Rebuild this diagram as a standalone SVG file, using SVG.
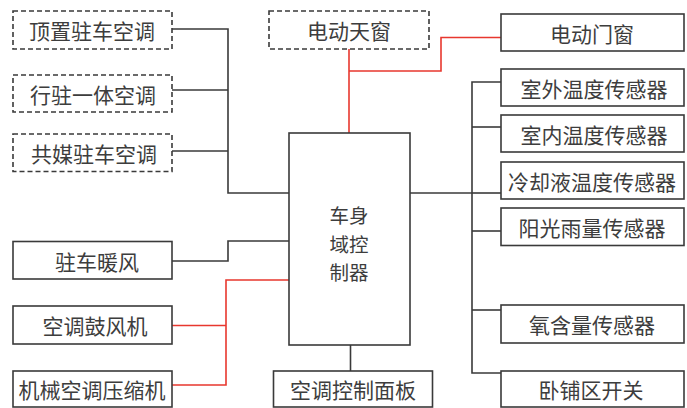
<svg xmlns="http://www.w3.org/2000/svg" width="687" height="408" viewBox="0 0 687 408">
<style>
.b{fill:#fff;stroke:#3a3a3a;stroke-width:1.6}
.d{fill:#fff;stroke:#3a3a3a;stroke-width:1.6;stroke-dasharray:5 3}
.t{font-family:"Noto Sans CJK SC","Noto Sans",sans-serif;font-size:21px;fill:#3d3d3d;text-anchor:middle;dominant-baseline:central}
.m{font-size:19.5px}
.k{fill:none;stroke:#3a3a3a;stroke-width:1.6}
.r{fill:none;stroke:#e8372e;stroke-width:1.6}
</style>
<rect width="687" height="408" fill="#fff"/>
<g id="connectors">
<polyline class="k" points="172,29 228,29 228,193 289,193"/>
<line class="k" x1="172" y1="90" x2="228" y2="90"/>
<line class="k" x1="172" y1="151" x2="228" y2="151"/>
<polyline class="k" points="172,261 228,261 228,241 289,241"/>
<polyline class="r" points="172,325.5 226,325.5"/>
<polyline class="r" points="172,385 226,385 226,280 289,280"/>
<line class="r" x1="349" y1="49" x2="349" y2="133"/>
<polyline class="r" points="349,71 441,71 441,37.5 501,37.5"/>
<line class="k" x1="350.5" y1="345" x2="350.5" y2="371"/>
<line class="k" x1="410" y1="193" x2="472" y2="193"/>
<polyline class="k" points="501,82 472,82 472,373 501,373"/>
<line class="k" x1="472" y1="127" x2="501" y2="127"/>
<line class="k" x1="472" y1="193" x2="501" y2="193"/>
<line class="k" x1="472" y1="231" x2="501" y2="231"/>
<line class="k" x1="472" y1="310" x2="501" y2="310"/>
</g>
<g id="n1"><rect class="d" x="13" y="11" width="159" height="38"/><text class="t" x="92" y="30">顶置驻车空调</text></g>
<g id="n2"><rect class="d" x="13" y="75" width="159" height="37"/><text class="t" x="93" y="93.5">行驻一体空调</text></g>
<g id="n3"><rect class="d" x="13" y="134" width="159" height="37.5"/><text class="t" x="94" y="152.5">共媒驻车空调</text></g>
<g id="n4"><rect class="b" x="13" y="241.5" width="159" height="37.5"/><text class="t" x="97" y="260.5">驻车暖风</text></g>
<g id="n5"><rect class="b" x="13" y="306" width="159" height="38"/><text class="t" x="95" y="325">空调鼓风机</text></g>
<g id="n6"><rect class="b" x="13" y="371" width="159" height="36"/><text class="t" x="92" y="389">机械空调压缩机</text></g>
<g id="n7"><rect class="d" x="269" y="11" width="160" height="38"/><text class="t" x="349" y="30">电动天窗</text></g>
<g id="n8"><rect class="b" x="289" y="133" width="121" height="212"/><text class="t m" x="349" y="214.5">车身</text><text class="t m" x="349" y="243">域控</text><text class="t m" x="349" y="271.5">制器</text></g>
<g id="n9"><rect class="b" x="273.5" y="371" width="159" height="36"/><text class="t" x="353" y="389">空调控制面板</text></g>
<g id="n10"><rect class="b" x="501" y="14" width="183" height="37"/><text class="t" x="592" y="32.5">电动门窗</text></g>
<g id="n11"><rect class="b" x="501" y="69" width="183" height="37"/><text class="t" x="594" y="87.5">室外温度传感器</text></g>
<g id="n12"><rect class="b" x="501" y="115" width="183" height="37"/><text class="t" x="594" y="133.5">室内温度传感器</text></g>
<g id="n13"><rect class="b" x="501" y="162" width="183" height="37"/><text class="t" x="592" y="180.5">冷却液温度传感器</text></g>
<g id="n14"><rect class="b" x="501" y="208" width="183" height="37.5"/><text class="t" x="592" y="227">阳光雨量传感器</text></g>
<g id="n15"><rect class="b" x="501" y="305" width="183" height="38"/><text class="t" x="592" y="324">氧含量传感器</text></g>
<g id="n16"><rect class="b" x="501" y="371" width="183" height="36"/><text class="t" x="591" y="389">卧铺区开关</text></g>
</svg>
